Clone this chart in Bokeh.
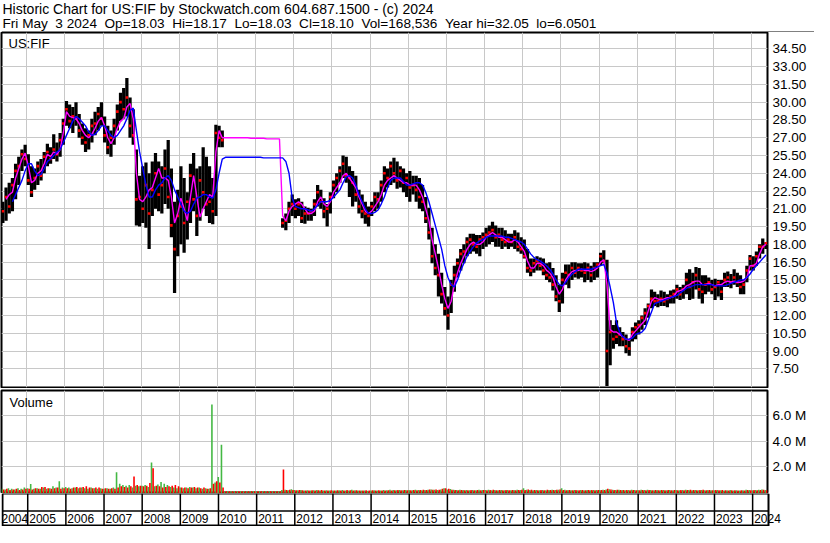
import math
from bokeh.plotting import figure
from bokeh.models import Range1d, FixedTicker, ColumnDataSource, Span, Label
from bokeh.layouts import column
from bokeh.embed import file_html
from bokeh.resources import INLINE
from bokeh.core.properties import value

nan = float("nan")
SP2 = "\u00a0\u00a0"

# ---------------- texts ----------------
header_line1 = "Historic Chart for US:FIF by Stockwatch.com 604.687.1500 - (c) 2024"
header_fields = ["Fri May\u00a0\u00a03 2024", "Op=18.03", "Hi=18.17", "Lo=18.03", "Cl=18.10",
                 "Vol=168,536", "Year hi=32.05", "lo=6.0501"]
symbol_label = "US:FIF"
volume_label = "Volume"

# ---------------- data (monthly, May 2004 .. May 2024) ----------------
start_year, start_month = 2004, 5

price_high = [
    21.6, 22.8, 23.2, 23.6, 24.8, 25.4, 26.0, 26.4,                      # 2004 May-Dec
    25.6, 24.6, 24.4, 25.0, 25.2, 25.8, 26.5, 26.2, 27.3, 26.6, 27.4, 28.6,  # 2005
    30.1, 29.8, 29.6, 30.0, 29.0, 28.2, 27.8, 27.6, 28.6, 29.2, 29.6, 30.0,  # 2006
    28.8, 28.0, 27.6, 28.6, 29.8, 30.8, 31.2, 32.05, 30.4, 29.4, 26.0, 23.8, # 2007
    24.6, 24.9, 24.0, 25.0, 25.7, 25.0, 24.6, 26.0, 26.8, 24.4, 21.6, 22.6,  # 2008
    24.6, 23.6, 22.4, 24.8, 25.7, 24.4, 24.6, 26.2, 25.4, 24.6, 23.6, 28.1,  # 2009
    28.0, 27.6, nan, nan, nan, nan, nan, nan, nan, nan, nan, nan,            # 2010
    nan, nan, nan, nan, nan, nan, nan, nan, 20.2, 20.6, 21.6, 22.2,          # 2011
    21.8, 21.9, 21.6, 21.2, 21.1, 21.0, 21.8, 23.0, 22.6, 21.9, 21.4, 22.4,  # 2012
    23.4, 24.0, 24.6, 25.5, 25.4, 24.6, 24.2, 23.8, 22.6, 22.2, 21.6, 21.2,  # 2013
    21.6, 22.4, 22.4, 23.4, 24.6, 24.4, 25.0, 25.3, 25.0, 24.6, 24.4, 24.0,  # 2014
    24.2, 23.8, 23.8, 23.6, 23.0, 22.0, 21.1, 19.4, 18.0, 17.2, 15.6, 14.4,  # 2015
    13.6, 15.0, 16.2, 16.8, 17.6, 18.0, 18.6, 18.9, 18.9, 18.8, 18.8, 19.0,  # 2016
    19.4, 19.6, 19.9, 19.6, 19.4, 19.4, 19.2, 18.9, 18.9, 19.2, 19.0, 18.6,  # 2017
    18.4, 17.6, 16.8, 16.8, 17.0, 16.9, 16.8, 16.4, 16.5, 16.0, 15.4, 14.6,  # 2018
    15.6, 16.3, 16.3, 16.5, 16.5, 16.4, 16.4, 16.5, 16.4, 16.2, 16.5, 16.5,  # 2019
    17.3, 17.5, 16.7, 11.6, 11.2, 11.6, 11.0, 10.6, 10.4, 10.0, 11.0, 11.4,  # 2020
    11.6, 12.0, 12.6, 13.0, 14.2, 14.0, 13.8, 14.1, 14.0, 13.8, 14.1, 14.2,  # 2021
    14.6, 14.4, 14.6, 15.6, 15.9, 15.6, 16.1, 16.0, 15.4, 15.4, 15.2, 15.0,  # 2022
    15.1, 15.0, 15.0, 15.6, 15.7, 15.5, 15.9, 15.6, 15.4, 15.0, 16.2, 17.1,  # 2023
    17.0, 17.4, 18.0, 18.5, 18.17,                                          # 2024 Jan-May
]

price_low = [
    19.8, 20.0, 20.6, 20.8, 21.8, 23.0, 24.2, 24.6,
    23.0, 22.0, 22.6, 23.0, 23.4, 24.0, 24.6, 24.8, 25.2, 25.0, 25.4, 26.4,
    28.0, 27.8, 27.4, 28.0, 27.0, 26.4, 25.8, 26.0, 26.6, 27.2, 27.6, 28.0,
    26.6, 25.6, 25.4, 26.4, 27.6, 28.4, 28.6, 28.8, 27.0, 26.4, 19.6, 19.5,
    19.8, 19.4, 17.6, 20.4, 21.0, 20.8, 20.6, 21.4, 21.0, 18.6, 13.9, 17.0,
    18.0, 17.3, 18.4, 19.8, 20.8, 18.7, 20.0, 21.0, 20.4, 19.8, 19.7, 20.4,
    26.2, 26.2, nan, nan, nan, nan, nan, nan, nan, nan, nan, nan,
    nan, nan, nan, nan, nan, nan, nan, nan, 19.4, 19.2, 19.8, 20.4,
    20.2, 20.4, 19.8, 19.75, 20.0, 20.0, 20.4, 21.2, 21.0, 20.2, 19.5, 20.6,
    21.9, 22.4, 23.2, 23.6, 23.2, 22.0, 21.2, 21.6, 20.6, 20.2, 19.75, 19.5,
    20.4, 20.8, 21.0, 21.6, 22.4, 22.8, 23.0, 23.2, 22.7, 22.8, 22.4, 22.0,
    21.6, 22.2, 21.6, 21.0, 20.8, 19.8, 18.4, 16.4, 15.4, 13.6, 13.0, 12.0,
    10.8, 12.2, 14.0, 15.2, 15.8, 16.4, 17.0, 17.2, 17.4, 17.2, 17.0, 17.6,
    17.8, 18.0, 18.2, 17.8, 17.8, 17.6, 17.8, 17.6, 17.8, 17.6, 17.4, 17.2,
    16.8, 15.6, 15.3, 15.6, 15.8, 15.8, 15.4, 15.0, 14.8, 14.1, 13.2, 12.3,
    13.0, 14.6, 14.3, 15.0, 15.2, 15.1, 15.2, 14.8, 15.0, 14.8, 15.0, 15.2,
    16.2, 16.4, 6.05, 7.8, 9.2, 9.6, 9.4, 9.4, 8.8, 8.6, 9.8, 10.0,
    10.4, 10.8, 11.2, 11.8, 12.6, 12.8, 12.7, 12.8, 12.8, 12.7, 13.0, 13.0,
    13.4, 13.3, 13.4, 13.8, 13.3, 13.4, 14.2, 13.4, 13.0, 13.8, 14.0, 13.8,
    13.3, 13.6, 13.3, 14.4, 14.4, 14.3, 14.6, 14.4, 13.8, 13.8, 14.8, 15.8,
    15.8, 16.2, 16.8, 17.2, 17.6,
]

price_close = [
    20.8, 22.0, 21.2, 23.0, 24.2, 24.6, 25.6, 25.2,
    23.4, 22.4, 23.6, 24.6, 23.8, 25.4, 25.8, 25.2, 26.0, 25.6, 26.8, 28.2,
    29.4, 28.4, 28.8, 28.6, 27.6, 27.0, 26.6, 27.2, 28.0, 28.2, 29.0, 28.6,
    27.2, 26.2, 27.0, 28.0, 29.2, 30.0, 29.4, 30.4, 28.0, 27.2, 21.8, 22.0,
    21.0, 23.0, 20.6, 22.6, 24.0, 22.2, 23.0, 24.4, 22.0, 19.6, 17.6, 20.4,
    21.2, 19.8, 21.6, 23.8, 21.8, 20.4, 23.4, 22.4, 21.4, 21.6, 20.8, 27.4,
    27.0, 26.8, nan, nan, nan, nan, nan, nan, nan, nan, nan, nan,
    nan, nan, nan, nan, nan, nan, nan, nan, 19.8, 20.0, 21.0, 21.4,
    21.0, 21.4, 20.2, 20.6, 20.6, 20.8, 21.4, 22.4, 21.6, 20.8, 21.0, 22.0,
    23.0, 23.6, 24.2, 24.8, 23.8, 23.6, 23.2, 22.2, 21.2, 20.8, 20.6, 20.4,
    21.2, 22.0, 21.8, 23.0, 24.0, 23.6, 24.6, 24.0, 23.4, 24.2, 23.2, 23.6,
    22.8, 23.0, 22.6, 22.0, 21.6, 20.2, 19.0, 17.0, 16.0, 15.4, 13.8, 12.6,
    12.0, 14.6, 15.4, 16.4, 17.2, 17.4, 18.2, 18.4, 18.0, 17.8, 18.4, 18.6,
    18.8, 19.0, 19.2, 18.6, 18.8, 18.4, 18.2, 18.4, 18.2, 18.6, 17.8, 17.6,
    17.0, 16.0, 15.8, 16.4, 16.6, 16.2, 15.8, 15.4, 15.2, 14.6, 13.6, 13.2,
    15.0, 15.6, 15.4, 16.0, 15.6, 16.0, 15.8, 15.6, 16.0, 15.4, 16.0, 16.3,
    17.0, 16.6, 9.0, 10.6, 10.0, 10.2, 10.4, 10.0, 9.4, 9.2, 10.6, 11.0,
    11.2, 11.8, 12.2, 12.8, 13.4, 13.2, 13.2, 13.4, 13.2, 13.4, 13.6, 13.8,
    14.2, 13.8, 14.2, 15.0, 14.4, 14.8, 15.4, 14.2, 14.0, 14.6, 14.8, 14.2,
    14.4, 14.8, 14.0, 15.0, 15.2, 14.8, 15.2, 14.8, 14.4, 14.6, 15.8, 16.8,
    16.2, 17.0, 17.8, 17.8, 18.10,
]

ma_fast = [
    nan, 21.8, 22.2, 22.4, 23.6, 24.4, 25.2, 25.7,
    24.6, 23.2, 23.4, 24.0, 24.2, 24.8, 25.6, 25.4, 25.8, 25.6, 26.0, 27.4,
    29.2, 28.8, 28.7, 28.6, 28.2, 27.6, 27.2, 27.0, 27.3, 27.8, 28.4, 28.7,
    28.0, 27.0, 26.5, 27.0, 27.8, 28.4, 28.6, 29.6, 29.9, 28.6, 24.0, 21.8,
    21.6, 22.0, 22.6, 22.8, 23.6, 24.4, 23.6, 23.6, 23.4, 22.0, 19.8, 20.6,
    21.9, 21.0, 20.0, 22.0, 23.8, 22.0, 20.3, 21.0, 21.6, 22.2, 22.0, 25.8,
    27.6, 27.0, 27.0, 27.0, 27.0, 27.0, 27.0, 27.0, 27.0, 27.0, 26.95, 26.95,
    26.95, 26.95, 26.95, 26.9, 26.9, 26.9, 26.9, 26.9, 20.4, 20.0, 20.8, 21.2,
    21.4, 21.6, 21.4, 21.0, 20.6, 20.6, 20.8, 21.6, 22.0, 21.4, 21.2, 21.6,
    22.4, 22.8, 23.2, 23.8, 24.0, 23.6, 23.2, 22.8, 22.0, 21.4, 20.8, 20.6,
    20.8, 21.2, 21.6, 22.2, 23.0, 23.4, 23.6, 23.8, 23.6, 23.4, 23.2, 23.2,
    23.0, 23.0, 23.0, 22.6, 22.0, 21.0, 20.0, 18.4, 17.2, 16.0, 14.6, 13.4,
    12.6, 13.2, 14.6, 15.6, 16.4, 17.0, 17.6, 18.0, 18.2, 18.0, 18.0, 18.2,
    18.6, 18.8, 19.0, 18.8, 18.6, 18.6, 18.4, 18.2, 18.2, 18.4, 18.2, 17.8,
    17.4, 16.6, 16.0, 16.0, 16.4, 16.4, 16.2, 15.8, 15.6, 15.2, 14.4, 13.8,
    14.2, 15.0, 15.4, 15.7, 15.8, 15.8, 15.9, 15.8, 15.8, 15.7, 15.8, 16.0,
    16.5, 16.7, 14.6, 10.8, 10.6, 10.6, 10.4, 10.2, 10.0, 9.9, 10.4, 10.7,
    11.0, 11.3, 11.6, 12.4, 13.2, 13.5, 13.4, 13.3, 13.4, 13.5, 13.5, 13.6,
    14.0, 14.1, 14.2, 14.5, 14.6, 14.8, 14.9, 14.9, 14.6, 14.6, 14.7, 14.6,
    14.5, 14.6, 14.6, 14.8, 14.9, 14.8, 14.9, 14.8, 14.8, 14.9, 15.2, 16.2,
    16.2, 16.4, 17.2, 17.8, 18.0,
]

ma_slow = [
    nan, nan, nan, 21.6, 22.2, 22.8, 23.4, 24.2,
    24.8, 24.8, 24.2, 23.8, 23.9, 24.4, 25.0, 25.2, 25.5, 25.8, 26.0, 26.6,
    27.2, 27.8, 28.4, 28.8, 28.6, 28.3, 28.0, 27.5, 27.2, 27.3, 27.6, 28.0,
    28.0, 27.6, 27.2, 27.0, 27.2, 27.6, 28.0, 28.6, 29.3, 29.5, 27.6, 25.8,
    24.4, 23.0, 22.0, 22.0, 22.6, 23.0, 23.2, 23.6, 23.8, 23.4, 22.6, 22.0,
    21.4, 20.8, 20.6, 20.8, 21.4, 21.9, 22.0, 22.2, 22.2, 22.0, 21.9, 22.6,
    24.0, 25.2, 25.35, 25.35, 25.35, 25.35, 25.35, 25.35, 25.35, 25.35, 25.35, 25.35,
    25.35, 25.35, 25.3, 25.3, 25.3, 25.3, 25.3, 25.3, 25.3, 25.0, 24.0, 21.9,
    21.2, 21.1, 21.0, 21.0, 20.9, 20.8, 21.0, 21.3, 21.6, 21.6, 21.6, 21.7,
    22.0, 22.3, 22.6, 23.2, 23.7, 23.8, 23.6, 23.0, 22.2, 21.6, 21.0, 20.6,
    20.6, 20.7, 20.9, 21.4, 22.0, 22.8, 23.4, 23.6, 23.6, 23.6, 23.3, 23.0,
    23.0, 23.1, 23.2, 23.2, 23.0, 22.4, 21.6, 20.6, 19.6, 18.6, 17.6, 16.2,
    15.2, 14.6, 14.4, 15.0, 15.8, 16.4, 17.0, 17.4, 17.8, 18.1, 18.3, 18.4,
    18.6, 18.7, 18.7, 18.7, 18.7, 18.7, 18.6, 18.6, 18.5, 18.4, 18.3, 18.2,
    18.0, 17.6, 17.2, 16.9, 16.7, 16.6, 16.4, 16.2, 15.9, 15.5, 15.0, 14.6,
    14.5, 14.8, 15.2, 15.5, 15.7, 15.9, 15.9, 15.9, 15.9, 15.9, 16.0, 16.1,
    16.2, 16.3, 15.6, 14.4, 13.1, 11.4, 10.6, 10.2, 10.0, 10.0, 10.1, 10.4,
    10.5, 10.6, 10.9, 11.6, 12.3, 13.0, 13.1, 13.2, 13.3, 13.4, 13.5, 13.6,
    13.7, 13.9, 14.1, 14.3, 14.4, 14.5, 14.6, 14.6, 14.6, 14.6, 14.6, 14.6,
    14.5, 14.5, 14.5, 14.5, 14.6, 14.7, 14.8, 14.9, 15.0, 15.0, 15.2, 15.5,
    15.9, 16.2, 16.5, 16.8, 17.1,
]

# volume in millions of shares, split into up-close and down-close trading
volume_up = [
    0.2, 0.15, 0.25, 0.2, 0.15, 0.25, 0.2, 0.3,
    0.25, 0.58, 0.2, 0.25, 0.2, 0.3, 0.2, 0.25, 0.4, 0.3, 0.81, 0.3,
    0.35, 0.3, 0.25, 0.3, 0.25, 0.3, 0.25, 0.2, 0.3, 0.25, 0.2, 0.25,
    0.2, 0.25, 0.2, 0.3, 1.52, 0.6, 0.5, 0.45, 0.5, 0.3, 0.45, 0.4,
    0.45, 0.5, 0.35, 2.29, 0.4, 0.55, 0.75, 0.6, 0.5, 0.35, 0.3, 0.25,
    0.3, 0.25, 0.3, 0.35, 0.3, 0.25, 0.3, 0.2, 0.25, 0.2, 6.9, 0.7,
    1.14, 3.7, 0, 0, 0, 0, 0, 0, 0, 0, 0, 0,
    0, 0, 0, 0, 0, 0, 0, 0, 0.1, 0.12, 0.08, 0.17,
    0.1, 0.08, 0.1, 0.06, 0.08, 0.06, 0.08, 0.1, 0.07, 0.06, 0.08, 0.06,
    0.07, 0.06, 0.08, 0.1, 0.06, 0.07, 0.12, 0.08, 0.06, 0.07, 0.06, 0.05,
    0.06, 0.08, 0.06, 0.07, 0.1, 0.08, 0.12, 0.1, 0.08, 0.1, 0.08, 0.1,
    0.1, 0.08, 0.12, 0.1, 0.08, 0.1, 0.12, 0.15, 0.12, 0.1, 0.15, 0.25,
    0.15, 0.18, 0.12, 0.1, 0.12, 0.1, 0.1, 0.08, 0.1, 0.08, 0.12, 0.1,
    0.1, 0.12, 0.08, 0.1, 0.08, 0.1, 0.08, 0.1, 0.08, 0.1, 0.12, 0.1,
    0.25, 0.12, 0.1, 0.08, 0.1, 0.08, 0.1, 0.08, 0.1, 0.12, 0.1, 0.12,
    0.25, 0.12, 0.1, 0.08, 0.1, 0.08, 0.1, 0.08, 0.1, 0.08, 0.1, 0.1,
    0.1, 0.12, 0.15, 0.17, 0.12, 0.1, 0.12, 0.1, 0.08, 0.1, 0.12, 0.1,
    0.1, 0.12, 0.1, 0.12, 0.1, 0.08, 0.1, 0.08, 0.1, 0.08, 0.1, 0.08,
    0.1, 0.08, 0.1, 0.12, 0.1, 0.08, 0.1, 0.08, 0.1, 0.08, 0.1, 0.08,
    0.08, 0.1, 0.08, 0.06, 0.08, 0.1, 0.06, 0.08, 0.06, 0.08, 0.12, 0.1,
    0.08, 0.1, 0.12, 0.14, 0.1,
]

volume_down = [
    0.15, 0.2, 0.1, 0.15, 0.2, 0.1, 0.15, 0.2,
    0.2, 0.15, 0.25, 0.2, 0.35, 0.35, 0.25, 0.2, 0.25, 0.3, 0.2, 0.25,
    0.25, 0.2, 0.3, 0.35, 0.3, 0.35, 0.4, 0.3, 0.25, 0.3, 0.3, 0.2,
    0.25, 0.2, 0.25, 0.2, 0.3, 0.4, 0.35, 0.3, 0.4, 1.19, 0.5, 0.45,
    0.4, 0.45, 0.66, 1.83, 0.45, 0.4, 0.3, 0.35, 0.4, 0.45, 0.5, 0.4,
    0.3, 0.3, 0.25, 0.3, 0.35, 0.3, 0.25, 0.3, 0.2, 0.25, 0.6, 0.8,
    0.7, 0.3, 0, 0, 0, 0, 0, 0, 0, 0, 0, 0,
    0, 0, 0, 0, 0, 0, 0, 0, 1.73, 0.1, 0.12, 0.1,
    0.08, 0.1, 0.08, 0.07, 0.06, 0.08, 0.06, 0.08, 0.1, 0.07, 0.06, 0.08,
    0.06, 0.08, 0.06, 0.07, 0.1, 0.08, 0.06, 0.08, 0.07, 0.06, 0.08, 0.06,
    0.08, 0.06, 0.08, 0.06, 0.07, 0.08, 0.06, 0.08, 0.1, 0.08, 0.1, 0.08,
    0.08, 0.1, 0.08, 0.1, 0.12, 0.1, 0.15, 0.12, 0.15, 0.12, 0.2, 0.25,
    0.2, 0.12, 0.1, 0.08, 0.1, 0.08, 0.08, 0.1, 0.08, 0.1, 0.08, 0.1,
    0.08, 0.1, 0.12, 0.08, 0.1, 0.08, 0.1, 0.08, 0.1, 0.08, 0.1, 0.12,
    0.1, 0.15, 0.12, 0.1, 0.08, 0.1, 0.08, 0.12, 0.1, 0.1, 0.12, 0.15,
    0.1, 0.08, 0.1, 0.08, 0.1, 0.08, 0.1, 0.08, 0.1, 0.1, 0.08, 0.1,
    0.1, 0.1, 0.2, 0.15, 0.1, 0.12, 0.1, 0.1, 0.1, 0.08, 0.1, 0.08,
    0.08, 0.1, 0.08, 0.1, 0.08, 0.1, 0.08, 0.1, 0.08, 0.1, 0.08, 0.1,
    0.08, 0.1, 0.08, 0.1, 0.12, 0.1, 0.08, 0.1, 0.12, 0.08, 0.1, 0.08,
    0.1, 0.08, 0.1, 0.08, 0.06, 0.08, 0.08, 0.06, 0.08, 0.06, 0.1, 0.08,
    0.1, 0.08, 0.1, 0.12, 0.08,
]

price_ticks = [7.5, 9.0, 10.5, 12.0, 13.5, 15.0, 16.5, 18.0, 19.5, 21.0, 22.5,
               24.0, 25.5, 27.0, 28.5, 30.0, 31.5, 33.0, 34.5]
price_tick_labels = ["7.50", "9.00", "10.50", "12.00", "13.50", "15.00", "16.50",
                     "18.00", "19.50", "21.00", "22.50", "24.00", "25.50", "27.00",
                     "28.50", "30.00", "31.50", "33.00", "34.50"]
volume_ticks = [2.0, 4.0, 6.0]
volume_tick_labels = ["2.0 M", "4.0 M", "6.0 M"]
year_ticks = [2005, 2006, 2007, 2008, 2009, 2010, 2011, 2012, 2013, 2014,
              2015, 2016, 2017, 2018, 2019, 2020, 2021, 2022, 2023, 2024]
year_labels = ["2004", "2005", "2006", "2007", "2008", "2009", "2010", "2011",
               "2012", "2013", "2014", "2015", "2016", "2017", "2018", "2019",
               "2020", "2021", "2022", "2023", "2024"]

# ---------------- derived positions ----------------
n = len(price_high)
for arr in (price_low, price_close, ma_fast, ma_slow, volume_up, volume_down):
    assert len(arr) == n, (len(arr), n)

t = []
yy, mm = start_year, start_month
for i in range(n):
    t.append(yy + (mm - 1) / 12.0 + 1 / 24.0)
    mm += 1
    if mm > 12:
        mm = 1
        yy += 1

X0, X1 = 2004.339, 2024.416
P_Y0, P_Y1 = 5.92, 35.88
V_Y0, V_Y1 = -0.17, 8.02

FONT = "Liberation Sans"
GRID = "#c8c8c8"
FRAME_W = 766
HDR_H, PRICE_H, VOL_H, STRIP_H = 32, 355, 103, 33
RIGHT = 47
TOTAL_W = FRAME_W + 1 + RIGHT
PPY = FRAME_W / (X1 - X0)          # pixels per year

xr = Range1d(X0, X1)

price_src = ColumnDataSource(dict(t=t, hi=price_high, lo=price_low, cl=price_close,
                                  maf=ma_fast, mas=ma_slow))
month = 1 / 12.0
vol_src = ColumnDataSource(dict(tu=[v - month / 4 for v in t], td=[v + month / 4 for v in t],
                                up=volume_up, dn=volume_down))


def panel(y0, y1, h, top=0, bottom=0):
    p = figure(frame_width=FRAME_W, frame_height=h, x_range=xr, y_range=Range1d(y0, y1),
               output_backend="svg", toolbar_location=None,
               x_axis_location=None, y_axis_location="right",
               min_border_left=1, min_border_right=RIGHT, min_border_top=top,
               min_border_bottom=bottom)
    p.outline_line_color = "black"
    p.outline_line_width = 2
    p.outline_line_alpha = 1
    p.background_fill_color = "white"
    p.border_fill_color = "white"
    return p


def style_axis(p, ticks, labels):
    ax = p.yaxis[0]
    ax.ticker = FixedTicker(ticks=ticks)
    ax.major_label_overrides = {k: v for k, v in zip(ticks, labels)}
    ax.axis_line_color = None
    ax.major_tick_line_color = None
    ax.minor_tick_line_color = None
    ax.major_tick_out = 0
    ax.major_tick_in = 0
    ax.minor_tick_out = 0
    ax.major_label_standoff = 5
    ax.major_label_text_font = FONT
    ax.major_label_text_font_size = "13.5px"
    ax.major_label_text_color = "black"
    p.ygrid.ticker = FixedTicker(ticks=ticks)
    p.ygrid.grid_line_color = GRID
    p.xgrid.ticker = FixedTicker(ticks=year_ticks)
    p.xgrid.grid_line_color = GRID


# ---------------- header ----------------
hdr = figure(frame_width=TOTAL_W, frame_height=HDR_H,
             x_range=Range1d(0, TOTAL_W), y_range=Range1d(HDR_H, 0),
             output_backend="svg", toolbar_location=None,
             x_axis_location=None, y_axis_location=None,
             min_border_left=0, min_border_right=0, min_border_top=0, min_border_bottom=0)
hdr.outline_line_color = None
hdr.xgrid.grid_line_color = None
hdr.ygrid.grid_line_color = None
hdr.add_layout(Label(x=1, y=0.0, text=header_line1, text_font=FONT, text_font_size="14px",
                     text_color="black", text_baseline="top"))
hdr.add_layout(Label(x=1, y=15.4, text=SP2.join(header_fields), text_font=FONT,
                     text_font_size="13.6px", text_color="black", text_baseline="top"))
hdr.add_layout(Span(location=31.5, dimension="width", line_color="black", line_width=1))

# ---------------- price panel ----------------
pp = panel(P_Y0, P_Y1, PRICE_H, top=0, bottom=1)
style_axis(pp, price_ticks, price_tick_labels)
pp.vbar(x="t", width=month * 1.02, top="hi", bottom="lo", source=price_src,
        fill_color="black", line_color=None)
pp.scatter(x="t", y="cl", source=price_src, marker="square", size=2.6,
           fill_color="#ff0000", line_color=None)
pp.line(x="t", y="maf", source=price_src, line_color="#ff00ff", line_width=1.4)
pp.line(x="t", y="mas", source=price_src, line_color="#0000ff", line_width=1.4)
pp.add_layout(Label(x=X0, y=P_Y1 - 3 * (P_Y1 - P_Y0) / PRICE_H, x_offset=7, text=symbol_label,
                    text_font=FONT, text_font_size="13px", text_color="black",
                    text_baseline="top"))

# ---------------- volume panel ----------------
vp = panel(V_Y0, V_Y1, VOL_H, top=2, bottom=0)
style_axis(vp, volume_ticks, volume_tick_labels)
vp.vbar(x="tu", width=month / 2, top="up", bottom=V_Y0, source=vol_src,
        fill_color="#44b844", line_color=None)
vp.vbar(x="td", width=month / 2, top="dn", bottom=V_Y0, source=vol_src,
        fill_color="#ff0000", line_color=None)
vp.add_layout(Label(x=X0, y=V_Y1 - 4.5 * (V_Y1 - V_Y0) / VOL_H, x_offset=8, text=volume_label,
                    text_font=FONT, text_font_size="13px", text_color="black",
                    text_baseline="top"))

# ---------------- date strip (frame spans the whole width so labels may overflow) ----------------
SX0 = X0 - 1 / PPY
SX1 = SX0 + TOTAL_W / PPY
sp = figure(frame_width=TOTAL_W, frame_height=STRIP_H, x_range=Range1d(SX0, SX1),
            y_range=Range1d(0, STRIP_H), output_backend="svg", toolbar_location=None,
            x_axis_location=None, y_axis_location=None,
            min_border_left=0, min_border_right=0, min_border_top=0, min_border_bottom=0)
sp.outline_line_color = None
sp.xgrid.grid_line_color = None
sp.ygrid.grid_line_color = None
# year separators
sp.segment(x0=year_ticks, y0=0, x1=year_ticks, y1=STRIP_H, line_color="black", line_width=1.5)
# panel borders
sp.segment(x0=[X0, X1], y0=0, x1=[X0, X1], y1=STRIP_H, line_color="black", line_width=2)
sp.segment(x0=X0, y0=[STRIP_H, 15.5, 1], x1=X1, y1=[STRIP_H, 15.5, 1],
           line_color="black", line_width=[2, 1.5, 2])
label_x = [max(float(int(s)), X0) for s in year_labels]
label_off = [1.5 if float(int(s)) >= X0 else -1.0 for s in year_labels]
lab_src = ColumnDataSource(dict(x=label_x, text=year_labels, off=label_off))
sp.text(x="x", y=8.5, text="text", x_offset="off", source=lab_src,
        text_font=value(FONT), text_font_size=value("12px"), text_color="black",
        text_baseline="middle", text_align="left")

layout = column(hdr, pp, vp, sp, spacing=0)
open("out.html", "w").write(file_html(layout, INLINE))
